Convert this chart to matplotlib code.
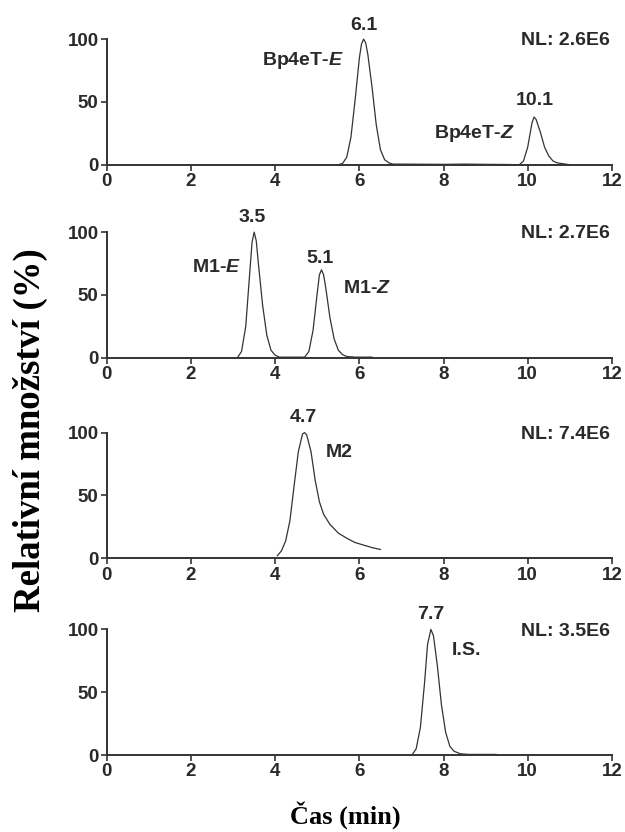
import matplotlib
matplotlib.use("Agg")
import matplotlib.pyplot as plt

# traces: (time in min, relative abundance in %)
t_bp4et = [5.5, 5.6, 5.7, 5.8, 5.9, 6.0, 6.05, 6.1, 6.15, 6.2, 6.3, 6.4, 6.5, 6.6, 6.7, 6.8,
           7.0, 7.5, 8.0, 8.5, 9.0, 9.5, 9.8, 9.9, 10.0, 10.1, 10.15, 10.2, 10.3, 10.4,
           10.5, 10.6, 10.7, 10.9, 11.0]
i_bp4et = [0, 1, 6, 22, 52, 85, 96, 100, 97, 88, 62, 32, 12, 4, 1.5, 0.5,
           0.5, 0.4, 0.3, 0.5, 0.3, 0.2, 0, 3, 14, 33, 38, 36, 26, 14,
           7, 3, 1.5, 0.5, 0]

t_m1 = [3.1, 3.2, 3.3, 3.4, 3.45, 3.5, 3.55, 3.6, 3.7, 3.8, 3.9, 4.0, 4.1, 4.7, 4.8, 4.9,
        5.0, 5.05, 5.1, 5.15, 5.2, 5.3, 5.4, 5.5, 5.6, 5.7, 5.9, 6.3]
i_m1 = [0, 5, 25, 70, 92, 100, 93, 75, 42, 18, 6, 2, 0.5, 0.5, 5, 22,
        52, 66, 70, 66, 56, 32, 15, 6, 2.5, 1, 0.5, 0.5]

t_m2 = [4.05, 4.15, 4.25, 4.35, 4.45, 4.55, 4.65, 4.7, 4.75, 4.85, 4.95, 5.05, 5.15,
        5.3, 5.5, 5.7, 5.9, 6.1, 6.3, 6.5]
i_m2 = [2, 6, 14, 30, 58, 85, 99, 100, 98, 85, 62, 45, 35,
        27, 20, 16, 12.5, 10.5, 8.5, 7]

t_is = [7.25, 7.35, 7.45, 7.55, 7.62, 7.7, 7.76, 7.85, 7.95, 8.05, 8.15, 8.25, 8.4, 8.6, 9.25]
i_is = [0, 5, 22, 58, 88, 100, 95, 72, 40, 18, 7, 3, 1, 0.5, 0.5]

nl_values = ["NL: 2.6E6", "NL: 2.7E6", "NL: 7.4E6", "NL: 3.5E6"]

# peak annotations per panel: (text, x, y, ha)
peak_labels = [
    [("6.1", 6.1, 111, "center"), (r"Bp4eT-$\mathbfit{E}$", 5.62, 83, "right"),
     ("10.1", 10.16, 51, "center"), (r"Bp4eT-$\mathbfit{Z}$", 9.69, 25, "right")],
    [("3.5", 3.45, 112, "center"), (r"M1-$\mathbfit{E}$", 3.2, 72, "right"),
     ("5.1", 5.07, 79, "center"), (r"M1-$\mathbfit{Z}$", 5.62, 55, "left")],
    [("4.7", 4.68, 112, "center"), ("M2", 5.2, 84, "left")],
    [("7.7", 7.7, 112, "center"), ("I.S.", 8.2, 83, "left")],
]

traces = [(t_bp4et, i_bp4et), (t_m1, i_m1), (t_m2, i_m2), (t_is, i_is)]

plt.rcParams['font.family'] = ['Liberation Sans', 'DejaVu Sans']
plt.rcParams['mathtext.fontset'] = 'custom'
plt.rcParams['mathtext.bfit'] = 'Liberation Sans:bold:italic'
txt_col = "#2a2a2a"

fig = plt.figure(figsize=(6.25, 8.32), dpi=100)
bottoms = [0.802, 0.570, 0.329, 0.0925]

for k, (tx, iy) in enumerate(traces):
    ax = fig.add_axes([0.171, bottoms[k], 0.808, 0.151])
    ax.plot(tx, iy, color="#333333", lw=0.9, clip_on=False)
    ax.set_xlim(0, 12)
    ax.set_ylim(0, 100)
    ax.set_xticks(range(0, 13, 2))
    ax.set_yticks([0, 50, 100])
    for s in ["top", "right"]:
        ax.spines[s].set_visible(False)
    for s in ["left", "bottom"]:
        ax.spines[s].set_linewidth(1.4)
        ax.spines[s].set_color("#333333")
    ax.tick_params(length=4, width=1.2, color="#333333", labelsize=13.5,
                   labelcolor=txt_col, pad=2)
    for lab in ax.get_xticklabels() + ax.get_yticklabels():
        lab.set_fontweight("bold")
    ax.text(11.96, 98.7, nl_values[k], ha="right", va="center", fontsize=14,
            fontweight="bold", color=txt_col)
    for s, x, y, ha in peak_labels[k]:
        ax.text(x, y, s, ha=ha, va="center", fontsize=14, fontweight="bold",
                color=txt_col, clip_on=False)

fig.text(0.048, 0.483, "Relativní množství (%)", rotation=90, ha="center", va="center",
         fontsize=26.5, fontweight="bold", family="Liberation Serif")
fig.text(0.552, 0.02, "Čas (min)", ha="center", va="center",
         fontsize=19, fontweight="bold", family="Liberation Serif")

fig.savefig("out.png", dpi=100, facecolor="white")
